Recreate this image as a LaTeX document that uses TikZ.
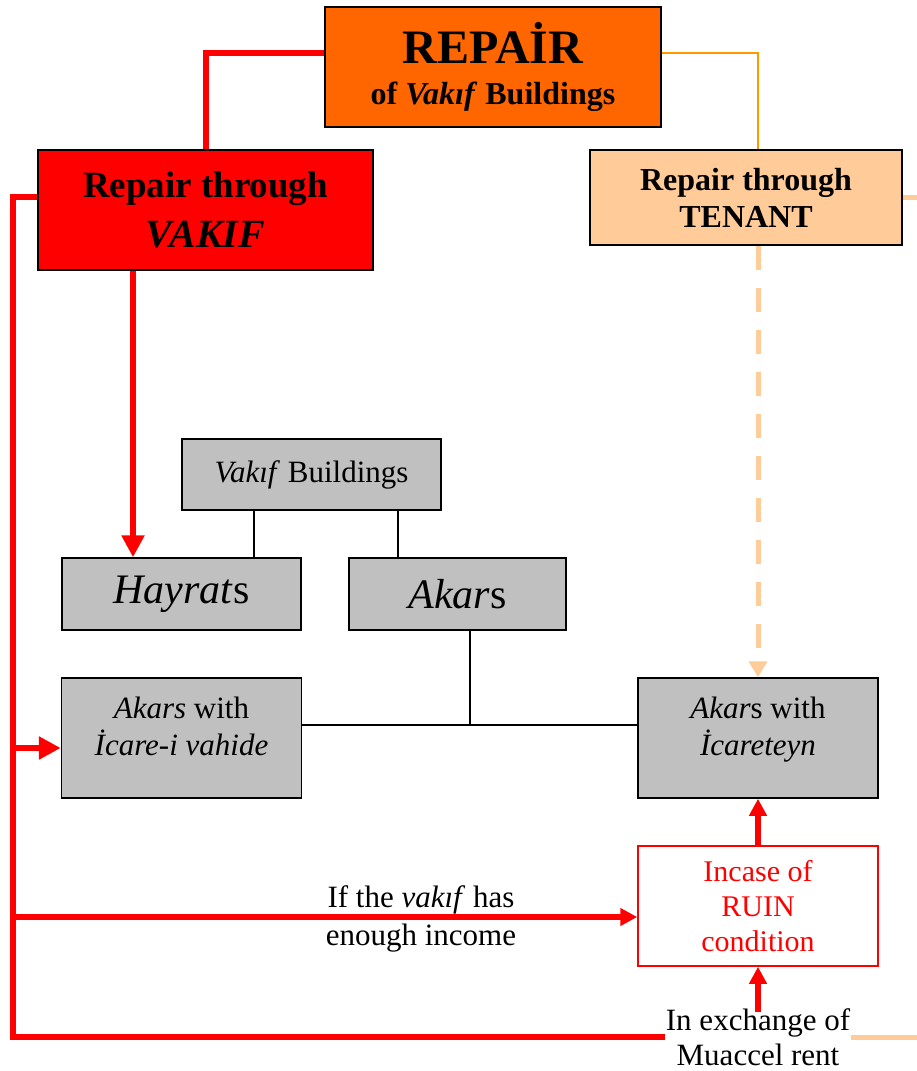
\documentclass[tikz,border=0pt]{standalone}
\usepackage{fontspec}
\setmainfont{Liberation Serif}
\usetikzlibrary{arrows.meta}
\definecolor{repairorange}{HTML}{FF6600}
\definecolor{tenantpeach}{HTML}{FFCC99}
\definecolor{buildgray}{HTML}{C0C0C0}
\definecolor{lineorange}{HTML}{FF9900}
\newcommand\txtnorm{\fontsize{31}{37}\selectfont}
\newcommand\txtbig{\fontsize{42}{48}\selectfont}
\begin{document}
\begin{tikzpicture}[x=1pt,y=-1pt,
		every node/.style = {shape=rectangle, draw, line width=1.5pt, align=center, inner sep=0pt},
		graybox/.style = {fill=buildgray, font=\txtnorm},
		textonly/.style = {draw=none, fill=none, font=\txtnorm},
		redline/.style = {draw=red, line width=6pt},
		redrail/.style = {draw=red, line width=6pt},
		bigtip/.style = {-{Triangle[length=22pt,width=22pt]}},
		smalltip/.style = {-{Triangle[length=17pt,width=17pt]}},
		peachline/.style = {draw=tenantpeach, line width=5pt},
		treeline/.style = {draw=black, line width=1.5pt}]
	\useasboundingbox (0,0) rectangle (917,1071);
	\node[fill=repairorange, minimum width=336pt, minimum height=120pt,
		font=\bfseries\fontsize{32}{41}\selectfont] (repair) at (493,67)
		{{\fontsize{48}{41}\selectfont REPAİR}\\of \textit{Vakıf} Buildings};
	\node[fill=red, minimum width=335pt, minimum height=120pt,
		font=\bfseries\fontsize{37}{50}\selectfont] (vakif) at (205.5,210)
		{Repair through\\{\fontsize{40}{50}\selectfont\textit{VAKIF}}};
	\node[fill=tenantpeach, minimum width=312pt, minimum height=95pt,
		font=\bfseries\fontsize{32}{37}\selectfont] (tenant) at (746,197.5)
		{Repair through\\TENANT};
	\node[graybox, minimum width=259pt, minimum height=71pt] (bldg) at (311.5,474.5) {\textit{Vakıf} Buildings};
	\node[graybox, minimum width=239pt, minimum height=72pt, font=\txtbig] (hayrat) at (181.5,594) {\textit{Hayrat}s};
	\node[graybox, minimum width=217pt, minimum height=72pt, font=\txtbig] (akar) at (457.5,594) {\textit{Akar}s};
	\node[graybox, minimum width=240pt, minimum height=120pt, text depth=24pt] (vahide) at (181.5,738)
		{\textit{Akars} with\\\textit{İcare-i vahide}};
	\node[graybox, minimum width=240pt, minimum height=120pt, text depth=23pt] (icareteyn) at (758,738)
		{\textit{Akar}s with\\\textit{İcareteyn}};
	\node[draw=red, fill=white, text=red, font=\fontsize{30}{35}\selectfont,
		minimum width=240pt, minimum height=120pt] (ruin) at (758,906)
		{Incase of\\RUIN\\condition};
	\node[textonly, font=\fontsize{31}{38}\selectfont] (income) at (421,919)
		{If the \textit{vakıf} has\\enough income};
	\node[textonly, font=\fontsize{31}{35}\selectfont] (exch) at (758,1037)
		{In exchange of\\Muaccel rent};
	\coordinate (edgetop) at (917,197.5);
	\coordinate (edgebot) at (917,1037);

	\draw[redline] ([yshift=14pt]repair.west) -| (vakif.north);
	\draw[draw=lineorange, line width=2pt] ([yshift=14pt]repair.east) -| ([xshift=12pt]tenant.north);
	\draw[redline, bigtip] ([xshift=-72.5pt]vakif.south) -- ([xshift=-72.5pt]vakif.south |- hayrat.north);
	\draw[peachline, dash pattern=on 24pt off 18pt, -{Triangle[length=16pt,width=18pt]}]
		([xshift=12pt]tenant.south) -- (icareteyn.north);
	\draw[peachline] (tenant.east) -- (edgetop);
	\draw[peachline] (exch.east) -- (edgebot);

	\draw[treeline] ([xshift=-57.5pt]bldg.south) -- ([xshift=-57.5pt]bldg.south |- hayrat.north);
	\draw[treeline] ([xshift=86.5pt]bldg.south) -- ([xshift=86.5pt]bldg.south |- akar.north);
	\draw[treeline] ([xshift=12.5pt]akar.south) -- ++(0,95);
	\draw[treeline] ([yshift=13pt]vahide.east) -- ([yshift=13pt]icareteyn.west);

	\draw[redrail] ([yshift=13pt]vakif.west) -- ++(-24,0) coordinate (rail) |- (exch.west);
	\draw[redrail, bigtip] ([yshift=-10pt]rail |- vahide.west) -- ([yshift=-10pt]vahide.west);
	\draw[redrail, smalltip] ([yshift=-11pt]rail |- ruin.west) -- ([yshift=-11pt]ruin.west);
	\draw[redrail, smalltip] (ruin.north) -- (icareteyn.south);
	\draw[redrail, smalltip] ([yshift=-4pt]exch.north) -- (ruin.south);
\end{tikzpicture}
\end{document}
